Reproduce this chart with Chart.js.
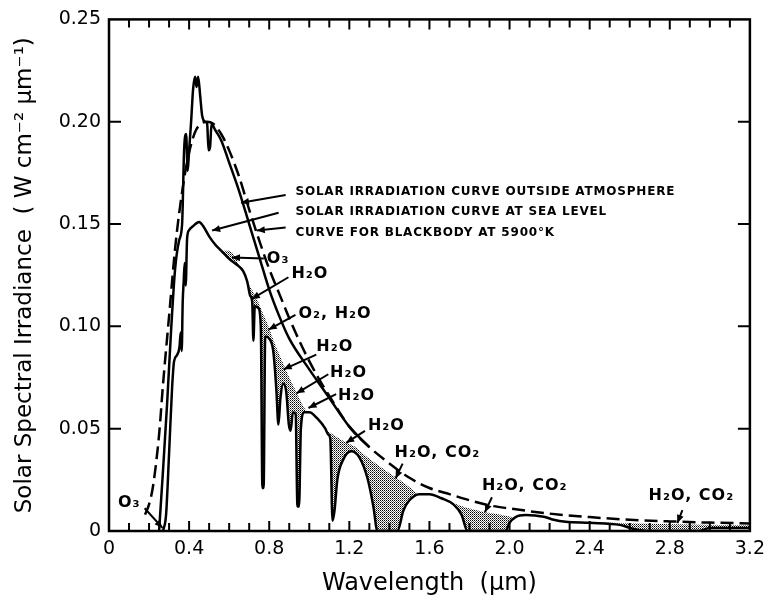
<!DOCTYPE html>
<html>
<head>
<meta charset="utf-8">
<script src="https://cdn.jsdelivr.net/npm/chart.js@4.4.0/dist/chart.umd.min.js"></script>
<style>
  html, body { margin: 0; padding: 0; background: #fff; }
  canvas { display: block; }
</style>
</head>
<body>
<canvas id="solarChart" width="772" height="603"></canvas>
<script>
// wavelength in um, irradiance in W cm-2 um-1

// blackbody at 5900 K (dashed)
const bbWave = [0.18, 0.20, 0.22, 0.25, 0.27, 0.30, 0.33, 0.35, 0.38, 0.40, 0.43, 0.46, 0.49, 0.52, 0.56,
  0.60, 0.65, 0.70, 0.75, 0.80, 0.85, 0.90, 0.95, 1.00, 1.05, 1.10, 1.20, 1.30, 1.40, 1.50, 1.60,
  1.70, 1.80, 1.90, 2.00, 2.20, 2.40, 2.60, 2.80, 3.00, 3.20];
const bbIrr = [0.008, 0.013, 0.022, 0.047, 0.072, 0.105, 0.138, 0.155, 0.175, 0.185, 0.195, 0.199, 0.200, 0.199, 0.194,
  0.186, 0.173, 0.157, 0.142, 0.128, 0.116, 0.104, 0.093, 0.083, 0.074, 0.066, 0.051, 0.041, 0.033, 0.026, 0.021,
  0.018, 0.015, 0.0125, 0.011, 0.0085, 0.0068, 0.0055, 0.0047, 0.0041, 0.0037];

// outside atmosphere (solid, upper)
const outWave = [0.25, 0.27, 0.29, 0.31, 0.33, 0.35, 0.365, 0.375, 0.385, 0.393, 0.40, 0.41, 0.42, 0.43, 0.437,
  0.445, 0.455, 0.465, 0.48, 0.49, 0.497, 0.505, 0.512, 0.53, 0.56, 0.60, 0.65, 0.70, 0.75, 0.80, 0.85,
  0.90, 1.00, 1.10, 1.20, 1.30];
const outIrr = [0.000, 0.030, 0.062, 0.098, 0.128, 0.142, 0.150, 0.186, 0.194, 0.176, 0.186, 0.200, 0.216, 0.222, 0.217,
  0.222, 0.213, 0.203, 0.200, 0.199, 0.186, 0.188, 0.199, 0.196, 0.191, 0.180, 0.166, 0.150, 0.134, 0.118, 0.105,
  0.094, 0.079, 0.065, 0.051, 0.041];

// at sea level (solid, lower)
const seaWave = [0.27, 0.285, 0.30, 0.315, 0.325, 0.34, 0.352, 0.358, 0.363, 0.368, 0.373, 0.378, 0.383, 0.39, 0.40,
  0.42, 0.45, 0.47, 0.50, 0.53, 0.56, 0.60, 0.64, 0.67, 0.69, 0.705, 0.715, 0.721, 0.728, 0.745,
  0.758, 0.766, 0.772, 0.78, 0.80, 0.82, 0.835, 0.846, 0.856, 0.87, 0.885, 0.898, 0.907, 0.918, 0.932,
  0.941, 0.949, 0.958, 0.975, 1.00, 1.04, 1.08, 1.095, 1.105, 1.116, 1.126, 1.14, 1.17, 1.21, 1.25,
  1.29, 1.32, 1.34, 1.44, 1.47, 1.50, 1.55, 1.60, 1.66, 1.72, 1.76, 1.79, 1.98, 2.00, 2.03,
  2.08, 2.17, 2.22, 2.28, 2.40, 2.55, 2.62, 2.70, 2.95, 3.00, 3.20];
const seaIrr = [0.000, 0.008, 0.038, 0.070, 0.083, 0.086, 0.090, 0.097, 0.088, 0.112, 0.122, 0.131, 0.120, 0.143, 0.147,
  0.149, 0.151, 0.149, 0.144, 0.140, 0.137, 0.133, 0.130, 0.127, 0.122, 0.115, 0.112, 0.093, 0.110, 0.109,
  0.100, 0.021, 0.021, 0.095, 0.094, 0.088, 0.070, 0.052, 0.065, 0.072, 0.068, 0.052, 0.049, 0.058, 0.057,
  0.012, 0.012, 0.050, 0.058, 0.058, 0.055, 0.050, 0.047, 0.045, 0.005, 0.010, 0.025, 0.035, 0.039, 0.036,
  0.026, 0.012, 0.000, 0.000, 0.010, 0.015, 0.018, 0.018, 0.016, 0.013, 0.008, 0.000, 0.000, 0.004, 0.0068,
  0.0078, 0.0070, 0.0055, 0.0045, 0.0040, 0.0030, 0.0010, 0.000, 0.000, 0.0015, 0.0015];

// top edge of the dotted absorption bands (only shaded where it sits above the sea level curve)
const bandWave = [0.55, 0.57, 0.60, 0.63, 0.66, 0.69, 0.71, 0.74, 0.77, 0.80, 0.83, 0.86, 0.90, 0.94, 0.97,
  1.00, 1.04, 1.07, 1.09, 1.12, 1.17, 1.23, 1.29, 1.36, 1.42, 1.48, 1.53, 1.56, 1.66, 1.72,
  1.78, 1.85, 1.92, 1.98, 2.03, 2.10, 2.22, 2.30, 2.60, 2.90, 3.20];
const bandIrr = [0.136, 0.137, 0.137, 0.134, 0.127, 0.122, 0.1185, 0.113, 0.106, 0.099, 0.091, 0.084, 0.075, 0.067, 0.061,
  0.057, 0.054, 0.0505, 0.049, 0.047, 0.044, 0.041, 0.036, 0.031, 0.027, 0.023, 0.019, 0.017, 0.015, 0.0135,
  0.0115, 0.0098, 0.0085, 0.0075, 0.0066, 0.0060, 0.0052, 0.0048, 0.0038, 0.0032, 0.0028];

// labels: text anchor, arrow start, arrow tip (all in data units)
const notes = [
  { text: 'SOLAR IRRADIATION CURVE OUTSIDE ATMOSPHERE', at: [0.931, 0.1657], from: [0.882, 0.1642], to: [0.659, 0.1604], big: true },
  { text: 'SOLAR IRRADIATION CURVE AT SEA LEVEL', at: [0.931, 0.1560], from: [0.847, 0.1555], to: [0.515, 0.1468], big: true },
  { text: 'CURVE FOR BLACKBODY AT 5900°K', at: [0.931, 0.1458], from: [0.882, 0.1483], to: [0.738, 0.1468], big: true },
  { text: 'O₃', at: [0.788, 0.1328], from: [0.773, 0.1332], to: [0.614, 0.1337] },
  { text: 'H₂O', at: [0.911, 0.1255], from: [0.896, 0.1240], to: [0.713, 0.1134] },
  { text: 'O₂, H₂O', at: [0.946, 0.1061], from: [0.931, 0.1056], to: [0.797, 0.0984] },
  { text: 'H₂O', at: [1.035, 0.0901], from: [1.035, 0.0862], to: [0.872, 0.0790] },
  { text: 'H₂O', at: [1.104, 0.0775], from: [1.095, 0.0766], to: [0.936, 0.0673] },
  { text: 'H₂O', at: [1.144, 0.0659], from: [1.134, 0.0669], to: [0.996, 0.0601] },
  { text: 'H₂O', at: [1.293, 0.0514], from: [1.278, 0.0489], to: [1.184, 0.0431] },
  { text: 'H₂O, CO₂', at: [1.426, 0.0383], from: [1.466, 0.0329], to: [1.431, 0.0257] },
  { text: 'H₂O, CO₂', at: [1.862, 0.0223], from: [1.912, 0.0165], to: [1.877, 0.0092] },
  { text: 'H₂O, CO₂', at: [2.694, 0.0170], from: [2.863, 0.0102], to: [2.838, 0.0039] },
  { text: 'O₃', at: [0.045, 0.0136], from: [0.178, 0.0111], to: [0.267, 0.0015] }
];

const toPoints = (xs, ys) => xs.map((x, i) => ({ x, y: ys[i] }));

// stipple used for the absorption bands
const tile = document.createElement('canvas');
tile.width = 2; tile.height = 2;
const tctx = tile.getContext('2d');
tctx.fillStyle = '#000';
tctx.fillRect(0, 0, 1, 1);
tctx.fillStyle = '#666';
tctx.fillRect(1, 1, 1, 1);
const dots = tctx.createPattern(tile, 'repeat');

function drawArrow(ctx, x1, y1, x2, y2) {
    ctx.beginPath();
    ctx.moveTo(x1, y1);
    ctx.lineTo(x2, y2);
    ctx.stroke();
    const a = Math.atan2(y2 - y1, x2 - x1);
    const len = 8, half = 3.5;
    ctx.beginPath();
    ctx.moveTo(x2, y2);
    ctx.lineTo(x2 - len * Math.cos(a) + half * Math.sin(a), y2 - len * Math.sin(a) - half * Math.cos(a));
    ctx.lineTo(x2 - len * Math.cos(a) - half * Math.sin(a), y2 - len * Math.sin(a) + half * Math.cos(a));
    ctx.closePath();
    ctx.fill();
}

// box, inward ticks and the curve labels
const frameAndNotes = {
    id: 'frameAndNotes',
    afterDatasetsDraw(chart) {
        const { ctx, chartArea: a, scales: { x, y } } = chart;
        ctx.save();
        ctx.strokeStyle = '#000';
        ctx.fillStyle = '#000';
        ctx.lineWidth = 2.5;
        ctx.strokeRect(a.left, a.top, a.right - a.left, a.bottom - a.top);

        ctx.lineWidth = 2;
        for (let i = 1; i < 32; i++) {
            const px = x.getPixelForValue(i / 10);
            const len = i % 4 === 0 ? 10 : 8;
            ctx.beginPath();
            ctx.moveTo(px, a.bottom); ctx.lineTo(px, a.bottom - len);
            ctx.moveTo(px, a.top); ctx.lineTo(px, a.top + len);
            ctx.stroke();
        }
        for (let i = 1; i < 5; i++) {
            const py = y.getPixelForValue(i * 0.05);
            ctx.beginPath();
            ctx.moveTo(a.left, py); ctx.lineTo(a.left + 12, py);
            ctx.moveTo(a.right, py); ctx.lineTo(a.right - 12, py);
            ctx.stroke();
        }

        ctx.textAlign = 'left';
        ctx.textBaseline = 'middle';
        notes.forEach(n => {
            ctx.lineWidth = 2;
            drawArrow(ctx, x.getPixelForValue(n.from[0]), y.getPixelForValue(n.from[1]),
                x.getPixelForValue(n.to[0]), y.getPixelForValue(n.to[1]));
            ctx.font = n.big ? 'bold 12px "DejaVu Sans"' : 'bold 16px "DejaVu Sans"';
            ctx.letterSpacing = n.big ? '0.8px' : '1px';
            ctx.fillText(n.text, x.getPixelForValue(n.at[0]), y.getPixelForValue(n.at[1]));
        });
        ctx.letterSpacing = '0px';
        ctx.restore();
    }
};

Chart.defaults.font.family = '"DejaVu Sans"';
Chart.defaults.color = '#000';

new Chart(document.getElementById('solarChart'), {
    type: 'line',
    data: {
        datasets: [
            {
                label: 'Blackbody at 5900 K',
                data: toPoints(bbWave, bbIrr),
                borderColor: '#000',
                borderWidth: 2.5,
                borderDash: [13, 6],
                pointRadius: 0,
                fill: false,
                cubicInterpolationMode: 'monotone'
            },
            {
                label: 'Outside atmosphere',
                data: toPoints(outWave, outIrr),
                borderColor: '#000',
                borderWidth: 2.5,
                pointRadius: 0,
                fill: false,
                cubicInterpolationMode: 'monotone'
            },
            {
                label: 'Sea level',
                data: toPoints(seaWave, seaIrr),
                borderColor: '#000',
                borderWidth: 2.5,
                pointRadius: 0,
                fill: false,
                cubicInterpolationMode: 'monotone'
            },
            {
                label: 'Absorption bands',
                data: toPoints(bandWave, bandIrr),
                borderWidth: 0,
                borderColor: 'rgba(0,0,0,0)',
                pointRadius: 0,
                fill: { target: 2, above: dots, below: 'rgba(0,0,0,0)' },
                cubicInterpolationMode: 'monotone'
            }
        ]
    },
    options: {
        responsive: false,
        animation: false,
        layout: { padding: { top: 15, right: 17, left: 0, bottom: 0 } },
        plugins: {
            legend: { display: false },
            tooltip: { enabled: false }
        },
        scales: {
            x: {
                type: 'linear',
                min: 0,
                max: 3.2,
                grid: { display: false, drawTicks: false },
                border: { display: false },
                ticks: {
                    stepSize: 0.4,
                    padding: 7,
                    font: { size: 19 },
                    maxRotation: 0,
                    callback: v => v === 0 ? '0' : v.toFixed(1)
                },
                title: {
                    display: true,
                    text: 'Wavelength  (µm)',
                    font: { size: 24 },
                    padding: { top: 0, bottom: 5 }
                },
                afterFit: s => { s.height = 72; }
            },
            y: {
                min: 0,
                max: 0.25,
                grid: { display: false, drawTicks: false },
                border: { display: false },
                ticks: {
                    stepSize: 0.05,
                    padding: 8,
                    font: { size: 19 },
                    callback: v => v === 0 ? '0' : v.toFixed(2)
                },
                title: {
                    display: true,
                    text: 'Solar Spectral Irradiance  ( W cm⁻² µm⁻¹)',
                    font: { size: 23 },
                    padding: { top: 11, bottom: 0 }
                },
                afterFit: s => { s.width = 109; }
            }
        }
    },
    plugins: [frameAndNotes]
});
</script>
</body>
</html>
